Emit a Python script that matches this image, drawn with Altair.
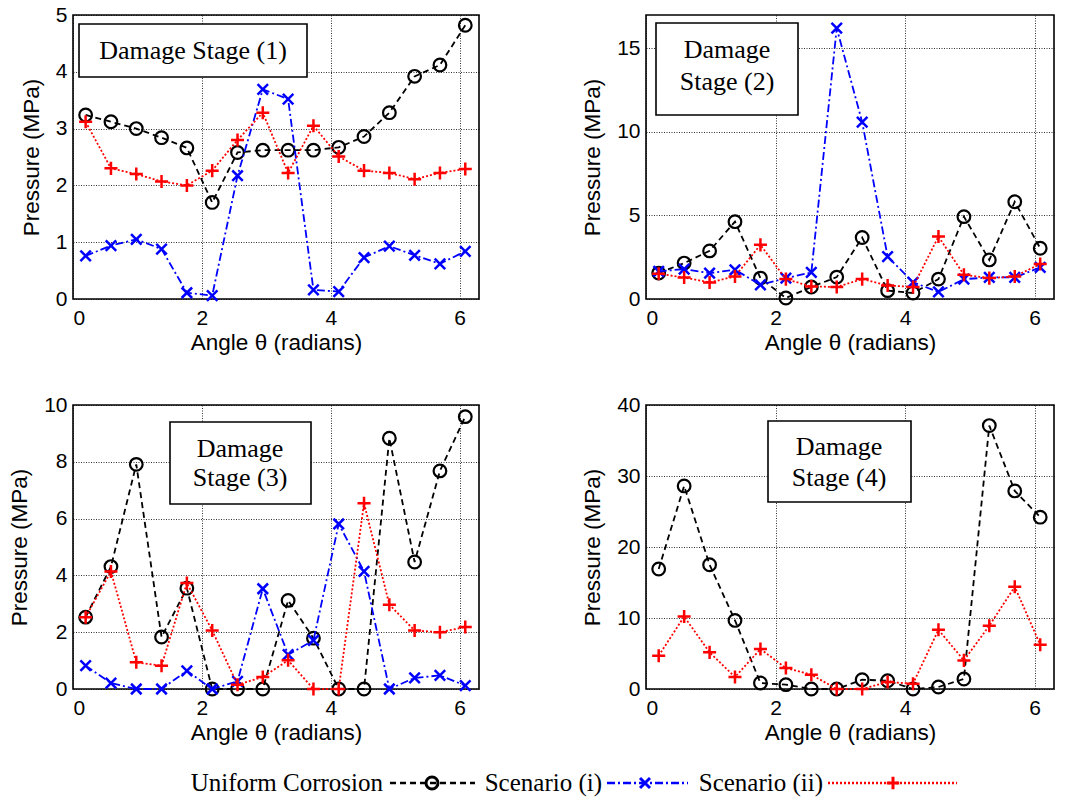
import altair as alt
import pandas as pd

angles = [0.196, 0.589, 0.982, 1.374, 1.767, 2.160, 2.553, 2.945,
          3.338, 3.731, 4.123, 4.516, 4.909, 5.301, 5.694, 6.087]

s1_uniform = [3.24, 3.12, 3.00, 2.84, 2.66, 1.70, 2.58, 2.62, 2.62, 2.62, 2.67, 2.86, 3.28, 3.92, 4.12, 4.82]
s1_i = [0.76, 0.94, 1.05, 0.88, 0.11, 0.06, 2.17, 3.69, 3.52, 0.16, 0.13, 0.73, 0.93, 0.77, 0.62, 0.84]
s1_ii = [3.12, 2.30, 2.20, 2.07, 2.00, 2.26, 2.80, 3.28, 2.22, 3.05, 2.51, 2.26, 2.22, 2.11, 2.22, 2.29]

s2_uniform = [1.55, 2.15, 2.88, 4.63, 1.25, 0.06, 0.72, 1.31, 3.68, 0.50, 0.36, 1.19, 4.93, 2.34, 5.82, 3.04]
s2_i = [1.65, 1.79, 1.55, 1.75, 0.85, 1.25, 1.59, 16.21, 10.59, 2.54, 1.00, 0.42, 1.19, 1.29, 1.29, 1.89]
s2_ii = [1.51, 1.29, 0.99, 1.35, 3.24, 1.19, 0.75, 0.72, 1.19, 0.81, 0.72, 3.74, 1.45, 1.25, 1.35, 2.09]

s3_uniform = [2.53, 4.31, 7.91, 1.83, 3.55, 0.0, 0.0, 0.0, 3.12, 1.79, 0.0, 0.0, 8.83, 4.47, 7.68, 9.59]
s3_i = [0.82, 0.21, 0.0, 0.0, 0.64, 0.0, 0.27, 3.53, 1.21, 1.71, 5.81, 4.14, 0.0, 0.39, 0.48, 0.12]
s3_ii = [2.53, 4.14, 0.94, 0.82, 3.73, 2.06, 0.15, 0.42, 1.01, 0.0, 0.0, 6.54, 2.97, 2.06, 2.00, 2.18]

s4_uniform = [16.9, 28.6, 17.5, 9.66, 0.84, 0.61, 0.0, 0.0, 1.31, 1.17, 0.0, 0.28, 1.41, 37.1, 27.9, 24.2]
s4_ii = [4.69, 10.2, 5.16, 1.69, 5.63, 2.95, 2.02, 0.0, 0.0, 0.98, 0.75, 8.34, 4.03, 8.91, 14.4, 6.24]

series_names = ["Uniform Corrosion", "Scenario (i)", "Scenario (ii)"]
x_ticks = [0, 2, 4, 6]

X_PATH = "M-1,-1L1,1M-1,1L1,-1"
PLUS_PATH = "M-1,0L1,0M0,-1L0,1"

STYLES = {
    "Uniform Corrosion": dict(color="black", dash=[6, 4], shape="circle", size=160, sw=2.2),
    "Scenario (i)": dict(color="#0000ff", dash=[8, 3, 2, 3], shape=X_PATH, size=110, sw=2.5),
    "Scenario (ii)": dict(color="#ff0000", dash=[2, 2], shape=PLUS_PATH, size=170, sw=2.5),
}

one = pd.DataFrame({"a": [0]})


def series_layers(name, values, xs, ys):
    df = pd.DataFrame({"angle": angles, "pressure": values})
    st = STYLES[name]
    base = alt.Chart(df).encode(x=xs, y=ys)
    line = base.mark_line(color=st["color"], strokeDash=st["dash"], strokeWidth=1.8)
    pts = base.mark_point(shape=st["shape"], size=st["size"], filled=False,
                          stroke=st["color"], strokeWidth=st["sw"], opacity=1)
    return [line, pts]


def panel(width, ymax, yticks, data, box, lines, legend=False):
    xs = alt.X("angle:Q", scale=alt.Scale(domain=[0, 6.3], nice=False),
               axis=alt.Axis(values=x_ticks, title="Angle θ (radians)", format="d"))
    ys = alt.Y("pressure:Q", scale=alt.Scale(domain=[0, ymax], nice=False),
               axis=alt.Axis(values=yticks, title="Pressure (MPa)", format="d"))
    layers = []
    bx0, bx1, by0, by1 = box
    rect = alt.Chart(one).mark_rect(fill="white", stroke="black", strokeWidth=1.6).encode(
        x=alt.value(bx0), x2=alt.value(bx1), y=alt.value(by0), y2=alt.value(by1))
    layers.append(rect)
    for (txt, tx, ty) in lines:
        layers.append(alt.Chart(one).mark_text(
            text=txt, font="Liberation Serif", fontSize=26, color="black",
            align="center", baseline="middle").encode(x=alt.value(tx), y=alt.value(ty)))
    for name, vals in data:
        layers += series_layers(name, vals, xs, ys)
    if legend:
        ly = 378
        items = [("Uniform Corrosion", 310, 317, 402, 359),
                 ("Scenario (i)", 529, 534, 615, 572),
                 ("Scenario (ii)", 750, 755, 884, 820)]
        for name, tr, l0, l1, pm in items:
            st = STYLES[name]
            layers.append(alt.Chart(one).mark_text(
                text=name, font="Liberation Serif", fontSize=25, color="black",
                align="right", baseline="middle").encode(x=alt.value(tr), y=alt.value(ly)))
            layers.append(alt.Chart(one).mark_rule(
                color=st["color"], strokeDash=st["dash"], strokeWidth=2.6).encode(
                x=alt.value(l0), x2=alt.value(l1), y=alt.value(ly)))
            layers.append(alt.Chart(one).mark_point(
                shape=st["shape"], size=st["size"] * 0.9, filled=False, stroke=st["color"],
                strokeWidth=3, opacity=1).encode(x=alt.value(pm), y=alt.value(ly)))
    return alt.layer(*layers).properties(width=width, height=284)


p1 = panel(406, 5, [0, 1, 2, 3, 4, 5],
           [("Uniform Corrosion", s1_uniform), ("Scenario (i)", s1_i), ("Scenario (ii)", s1_ii)],
           (6, 234, 9, 62), [("Damage Stage (1)", 120, 36)])
p2 = panel(408, 17, [0, 5, 10, 15],
           [("Uniform Corrosion", s2_uniform), ("Scenario (i)", s2_i), ("Scenario (ii)", s2_ii)],
           (10, 152, 8, 100), [("Damage", 81, 35), ("Stage (2)", 81, 67)])
p3 = panel(406, 10, [0, 2, 4, 6, 8, 10],
           [("Uniform Corrosion", s3_uniform), ("Scenario (i)", s3_i), ("Scenario (ii)", s3_ii)],
           (97, 238, 17, 99), [("Damage", 167, 44), ("Stage (3)", 167, 73)], legend=True)
p4 = panel(408, 40, [0, 10, 20, 30, 40],
           [("Uniform Corrosion", s4_uniform), ("Scenario (ii)", s4_ii)],
           (122, 265, 16, 97), [("Damage", 193, 42), ("Stage (4)", 193, 73)])

chart = alt.concat(
    p1, p2, p3, p4, columns=2, bounds="flush",
    spacing=alt.RowColnumber(row=106, column=167),
).resolve_scale(
    x="independent", y="independent"
).properties(
    autosize=alt.AutoSizeParams(type="pad"),
    padding={"left": 7, "top": 3, "right": 5, "bottom": 5},
    background="white",
).configure_view(
    stroke="black", strokeWidth=1.6
).configure_axis(
    labelFont="Liberation Sans", labelFontSize=21, labelColor="black",
    titleFont="Liberation Sans", titleFontSize=22.5, titleFontWeight="normal", titleColor="black",
    grid=True, gridColor="black", gridDash=[1, 1.5], gridOpacity=0.8, gridWidth=1,
    domain=False, ticks=False,
).configure_axisY(labelPadding=6, titlePadding=12
).configure_axisX(labelPadding=8, titlePadding=3)

chart.save("out.html", embed_options={"renderer": "svg", "actions": False})
